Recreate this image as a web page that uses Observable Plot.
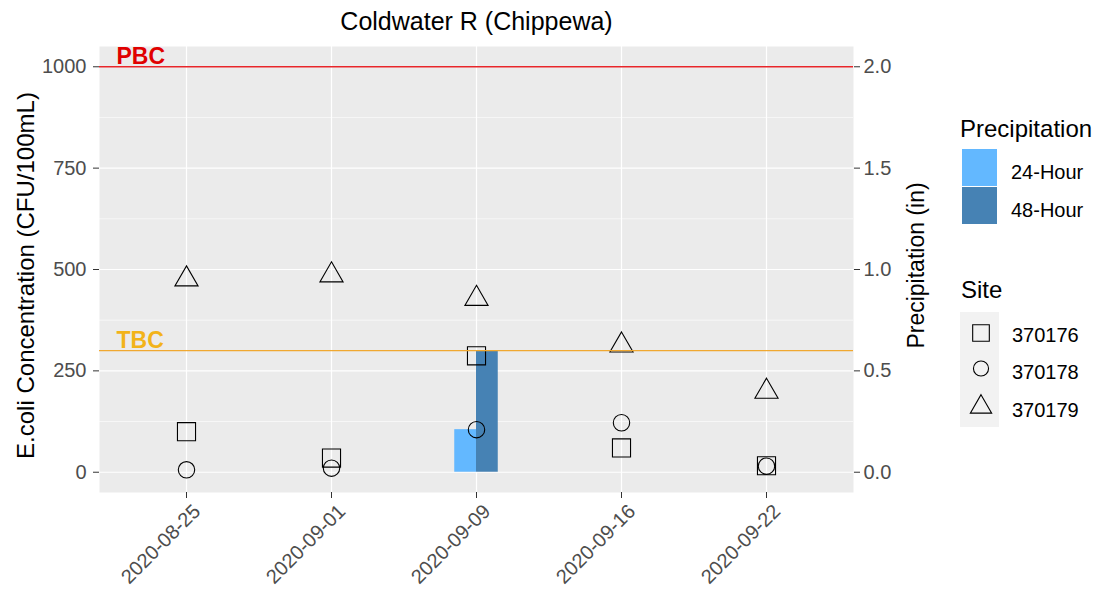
<!DOCTYPE html>
<html>
<head>
<meta charset="utf-8">
<script src="https://cdn.jsdelivr.net/npm/d3@7"></script>
<script src="https://cdn.jsdelivr.net/npm/@observablehq/plot@0.6"></script>
<style>
  html, body { margin: 0; padding: 0; background: #fff; }
  #chart { width: 1098px; height: 594px; }
</style>
</head>
<body>
<div id="chart"></div>
<script>
// ---------- data ----------
const chartTitle = "Coldwater R (Chippewa)";
const dates = ["2020-08-25", "2020-09-01", "2020-09-09", "2020-09-16", "2020-09-22"];
const sites = ["370176", "370178", "370179"];
const ecoli370176 = [100, 35, 287, 60, 16];
const ecoli370178 = [6, 10, 105, 122, 15];
const ecoli370179 = [476, 486, 428, 313, 199];
const precipTypes = ["24-Hour", "48-Hour"];
const precip24 = [0, 0, 0.21, 0, 0];
const precip48 = [0, 0, 0.60, 0, 0];
const thresholdLabels = ["PBC", "TBC"];
const thresholdValues = [1000, 300];
const ecoliTicks = [0, 250, 500, 750, 1000];
const ecoliMinor = [125, 375, 625, 875];
const precipTicks = [0.0, 0.5, 1.0, 1.5, 2.0];
const yTitle = "E.coli Concentration (CFU/100mL)";
const y2Title = "Precipitation (in)";

// ---------- styles ----------
const FONT = "'Liberation Sans', Arial, Helvetica, sans-serif";
const precipColors = ["#63B8FF", "#4682B4"];
const thresholdColors = ["#E8262A", "#F0A830"];
const thresholdTextColors = ["#E00000", "#F2B31A"];
const siteSymbols = ["square", "circle", "triangle"];
const siteR = [10.2, 8.2, 8.6];
const secScale = 1000 / 2.0; // precipitation inch -> left axis units

// ---------- tables ----------
const idx = dates.map((d, i) => i);
const siteSeries = [ecoli370176, ecoli370178, ecoli370179];
const points = [];
sites.forEach((s, k) => siteSeries[k].forEach((v, i) => points.push({i, site: s, value: v})));
const precipSeries = [precip24, precip48];
const bars = [];
precipTypes.forEach((t, k) => precipSeries[k].forEach((v, i) => bars.push({i, type: t, k, value: v})));
const thresholds = thresholdLabels.map((l, k) => ({label: l, value: thresholdValues[k], k}));
const barHalf = 0.15;

const svg = Plot.plot({
  width: 1098,
  height: 594,
  marginLeft: 99,
  marginRight: 245,
  marginTop: 46,
  marginBottom: 102,
  style: {fontFamily: FONT, background: "#fff", overflow: "visible"},
  x: {type: "linear", domain: [-0.6, 4.6], axis: null},
  y: {domain: [-50, 1050], axis: null},
  color: {domain: precipTypes, range: precipColors},
  marks: [
    Plot.frame({fill: "#EBEBEB", stroke: null}),
    Plot.ruleY(ecoliMinor, {stroke: "#fff", strokeWidth: 0.6}),
    Plot.ruleY(ecoliTicks, {stroke: "#fff", strokeWidth: 1.2}),
    Plot.ruleX(idx, {stroke: "#fff", strokeWidth: 1.2}),
    Plot.rectY(bars.filter(d => d.value > 0), {
      x1: d => d.i + (d.k === 0 ? -barHalf : 0),
      x2: d => d.i + (d.k === 0 ? 0 : barHalf),
      y1: 0,
      y2: d => d.value * secScale,
      fill: "type"
    }),
    ...sites.map((s, k) => Plot.dot(points.filter(d => d.site === s), {
      x: "i", y: "value", symbol: siteSymbols[k], r: siteR[k],
      stroke: "#000", strokeWidth: 1.1, fill: "none"
    })),
    Plot.ruleY(thresholds, {y: "value", stroke: d => thresholdColors[d.k], strokeWidth: 1.3}),
    Plot.text(thresholds, {
      y: "value", text: "label", frameAnchor: "left", dx: 17, dy: -3,
      textAnchor: "start", lineAnchor: "bottom", fontWeight: "bold", fontSize: 23,
      fill: d => thresholdTextColors[d.k]
    }),
    // axes
    Plot.axisY(ecoliTicks, {anchor: "left", tickSize: 6, tickPadding: 7, fontSize: 20,
      tickFormat: d => String(d), label: null, stroke: "#333", fill: "#4D4D4D"}),
    Plot.axisY(ecoliTicks, {anchor: "right", tickSize: 6, tickPadding: 4, fontSize: 20,
      tickFormat: d => (d / secScale).toFixed(1), label: null, stroke: "#333", fill: "#4D4D4D"}),
    Plot.axisX(idx, {anchor: "bottom", tickSize: 6, tickFormat: () => "", label: null, stroke: "#333"}),
    Plot.text(idx, {x: d => d, frameAnchor: "bottom", text: d => dates[d], rotate: -45,
      textAnchor: "end", lineAnchor: "top", dx: 5, dy: 10, fontSize: 20, fill: "#4D4D4D"}),
    // titles
    Plot.text([chartTitle], {frameAnchor: "top", dy: -25, lineAnchor: "middle", fontSize: 25, fill: "#000"}),
    Plot.text([yTitle], {frameAnchor: "left", dx: -73, dy: 6, rotate: -90, textAnchor: "middle",
      lineAnchor: "middle", fontSize: 24, fill: "#000"}),
    Plot.text([y2Title], {frameAnchor: "right", dx: 63, dy: -4, rotate: -90, textAnchor: "middle",
      lineAnchor: "middle", fontSize: 23, fill: "#000"})
  ]
});

// ---------- legends ----------
const root = d3.select(svg);
const lg = root.append("g").attr("font-family", FONT).attr("fill", "#000").attr("text-anchor", "start");
lg.append("text").attr("x", 960).attr("y", 137).attr("font-size", 24).text("Precipitation");
precipTypes.forEach((t, k) => {
  lg.append("rect").attr("x", 962).attr("y", 149 + k * 38).attr("width", 35).attr("height", 37)
    .attr("fill", precipColors[k]);
  lg.append("text").attr("x", 1011).attr("y", 179 + k * 38).attr("font-size", 20).text(t);
});
lg.append("text").attr("x", 961).attr("y", 298).attr("font-size", 24).text("Site");
lg.append("rect").attr("x", 960).attr("y", 312).attr("width", 39).attr("height", 115).attr("fill", "#F2F2F2");
const symMap = {square: d3.symbolSquare, circle: d3.symbolCircle, triangle: d3.symbolTriangle};
const symY = [333, 368.5, 407];
sites.forEach((s, k) => {
  const r = siteR[k] * 0.92;
  lg.append("path")
    .attr("d", d3.symbol(symMap[siteSymbols[k]], Math.PI * r * r)())
    .attr("transform", `translate(981,${symY[k]})`)
    .attr("fill", "none").attr("stroke", "#000").attr("stroke-width", 1.1);
  lg.append("text").attr("x", 1012).attr("y", 341.5 + k * 37.5).attr("font-size", 20).text(s);
});

document.getElementById("chart").appendChild(svg);
</script>
</body>
</html>
